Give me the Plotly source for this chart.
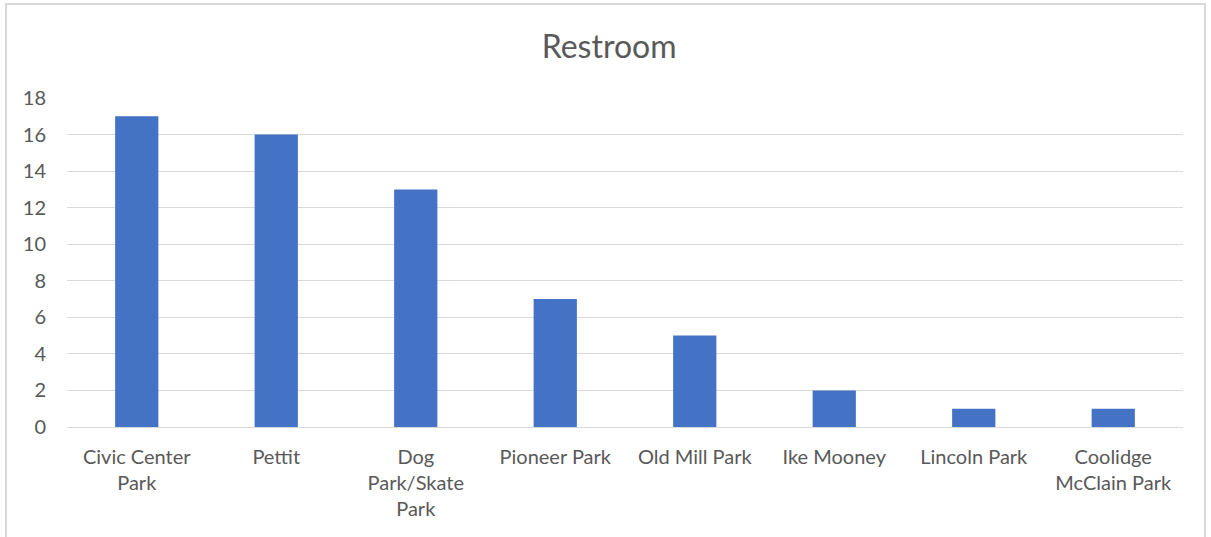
import plotly.graph_objects as go

categories = ["Civic Center<br>Park", "Pettit", "Dog<br>Park/Skate<br>Park", "Pioneer Park",
              "Old Mill Park", "Ike Mooney", "Lincoln Park", "Coolidge<br>McClain Park"]
values = [17, 16, 13, 7, 5, 2, 1, 1]
y_ticks = [0, 2, 4, 6, 8, 10, 12, 14, 16, 18]

W, H = 1211, 537
L, R, T, B = 67, 28, 98, 110
pw, ph = W - L - R, H - T - B

fig = go.Figure(go.Bar(x=categories, y=values, marker_color="#4472C4",
                       marker_line_width=0, width=0.31))

fig.update_layout(
    width=W, height=H,
    margin=dict(l=L, r=R, t=T, b=B, pad=0),
    paper_bgcolor="white", plot_bgcolor="white",
    font=dict(family="Lato, Open Sans, sans-serif", color="#595959", size=20),
    title=dict(text="Restroom", x=0.503, xanchor="center", y=1 - 47 / H, yanchor="middle",
               font=dict(size=32, color="#595959")),
    showlegend=False,
    bargap=0.69,
)
fig.update_xaxes(showgrid=False, showline=True, linecolor="#D9D9D9", linewidth=1,
                 ticks="", tickangle=0, ticklabelstandoff=12, fixedrange=True)
fig.update_yaxes(range=[0, 18], tickvals=y_ticks, showgrid=True, gridcolor="#D9D9D9",
                 gridwidth=1, zeroline=False, showline=False, ticks="",
                 ticklabelstandoff=20, fixedrange=True)

# chart border
x0 = (6 - L) / pw
x1 = (1205 - L) / pw
y1 = (H - B - 4) / ph
y0 = (H - B - 545) / ph
fig.add_shape(type="rect", xref="paper", yref="paper", x0=x0, x1=x1, y0=y0, y1=y1,
              line=dict(color="#D9D9D9", width=2), fillcolor="rgba(0,0,0,0)", layer="below")

fig.write_html("out.html", config={"displayModeBar": False},
               post_script="document.body.style.margin='0px';document.body.style.overflow='hidden';")
